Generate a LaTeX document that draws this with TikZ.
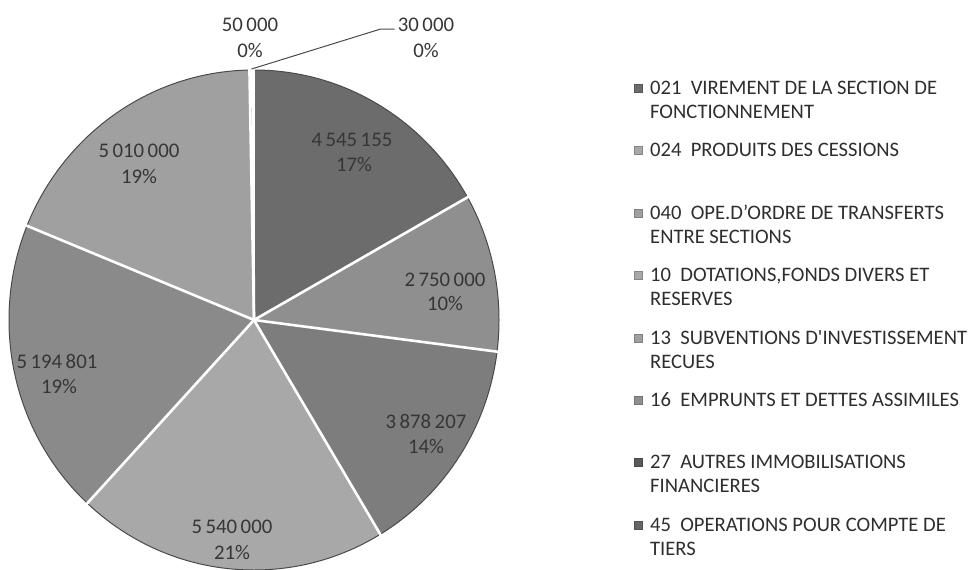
\documentclass[tikz,border=0pt]{standalone}
\usepackage{fontspec}
\setmainfont{Carlito}
\usetikzlibrary{calc}
\definecolor{sA}{HTML}{6C6C6C}
\definecolor{sB}{HTML}{8F8F8F}
\definecolor{sC}{HTML}{7D7D7D}
\definecolor{sD}{HTML}{A8A8A8}
\definecolor{sE}{HTML}{8A8A8A}
\definecolor{sF}{HTML}{A0A0A0}
\definecolor{sG}{HTML}{5A5A5A}
\definecolor{sH}{HTML}{666666}
\definecolor{txt}{HTML}{2E2E2E}
\definecolor{lbl}{HTML}{363636}
\definecolor{rim}{HTML}{4A4A4A}
\tikzset{
  pielbl/.style={inner sep=0pt, text height=13pt, text depth=0pt, text=lbl, font=\fontsize{20.8}{24}\selectfont},
  legtxt/.style={inner sep=0pt, anchor=west, text height=13pt, text depth=0pt, text=txt, font=\fontsize{20.6}{24}\selectfont},
  legbox/.style={minimum size=8pt, inner sep=0pt, draw=#1!80!black, fill=#1, line width=0.6pt},
  sep/.style={white, line width=2.6pt},
  leader/.style={draw=rim, line width=1pt}
}
\begin{document}
\begin{tikzpicture}[x=1pt,y=-1pt]
\useasboundingbox (0,0) rectangle (969,570);
% pie
\begin{scope}[shift={(254,320)}]
\coordinate (c) at (0,0);
\fill[sA] (c) -- (-90:245 and 250) arc[start angle=-90, end angle=-29.394, x radius=245, y radius=250] -- cycle;
\fill[sB] (c) -- (-29.394:245 and 250) arc[start angle=-29.394, end angle=7.276, x radius=245, y radius=250] -- cycle;
\fill[sC] (c) -- (7.276:245 and 250) arc[start angle=7.276, end angle=58.989, x radius=245, y radius=250] -- cycle;
\fill[sD] (c) -- (58.989:245 and 250) arc[start angle=58.989, end angle=132.860, x radius=245, y radius=250] -- cycle;
\fill[sE] (c) -- (132.860:245 and 250) arc[start angle=132.860, end angle=202.128, x radius=245, y radius=250] -- cycle;
\fill[sF] (c) -- (202.128:245 and 250) arc[start angle=202.128, end angle=268.933, x radius=245, y radius=250] -- cycle;
\fill[sG] (c) -- (268.933:245 and 250) arc[start angle=268.933, end angle=269.600, x radius=245, y radius=250] -- cycle;
\fill[sH] (c) -- (269.600:245 and 250) arc[start angle=269.600, end angle=270, x radius=245, y radius=250] -- cycle;
\draw[rim, line width=1pt] (c) ellipse[x radius=245, y radius=250];
\foreach \a in {-90,-29.394,7.276,58.989,132.860,202.128,268.933,269.600}
  \draw[sep] (c) -- (\a:247 and 252);
\coordinate (tip) at (-90.6:245 and 251);
\end{scope}
% pie labels
\node[pielbl] (v1a) at (352,140) {4\,545\,155};
\node[pielbl] (v1b) at (354,165) {17\%};
\node[pielbl] (v2a) at (445,280) {2\,750\,000};
\node[pielbl] (v2b) at (445,304) {10\%};
\node[pielbl] (v3a) at (426,422) {3\,878\,207};
\node[pielbl] (v3b) at (426,447) {14\%};
\node[pielbl] (v4a) at (232,527) {5\,540\,000};
\node[pielbl] (v4b) at (232,553) {21\%};
\node[pielbl] (v5a) at (57,362) {5\,194\,801};
\node[pielbl] (v5b) at (59,387) {19\%};
\node[pielbl] (v6a) at (139,151) {5\,010\,000};
\node[pielbl] (v6b) at (139,177) {19\%};
\node[pielbl] (v7a) at (250,25) {50\,000};
\node[pielbl] (v7b) at (250,51) {0\%};
\node[pielbl] (v8a) at (426,25) {30\,000};
\node[pielbl] (v8b) at (426,51) {0\%};
\draw[leader] ([xshift=-3pt,yshift=-4pt]v8a.west) -- ++(-14,0) -- (tip);
% legend
\node[legbox=sA] (m1) at (638,88) {};
\node[legtxt] (t1a) at (650,88) {021\hspace{0.45em}VIREMENT DE LA SECTION DE};
\node[legtxt] (t1b) at (650,112) {FONCTIONNEMENT};
\node[legbox=sD] (m2) at (638,150) {};
\node[legtxt] (t2a) at (650,150) {024\hspace{0.45em}PRODUITS DES CESSIONS};
\node[legbox=sF] (m3) at (638,213) {};
\node[legtxt] (t3a) at (650,213) {040\hspace{0.45em}OPE.D’ORDRE DE TRANSFERTS};
\node[legtxt] (t3b) at (650,237) {ENTRE SECTIONS};
\node[legbox=sD] (m4) at (638,275) {};
\node[legtxt] (t4a) at (650,275) {10\hspace{0.45em}DOTATIONS,FONDS DIVERS ET};
\node[legtxt] (t4b) at (650,299) {RESERVES};
\node[legbox=sF] (m5) at (638,338) {};
\node[legtxt] (t5a) at (650,338) {13\hspace{0.45em}SUBVENTIONS D\textquotesingle INVESTISSEMENT};
\node[legtxt] (t5b) at (650,362) {RECUES};
\node[legbox=sB] (m6) at (638,400) {};
\node[legtxt] (t6a) at (650,400) {16\hspace{0.45em}EMPRUNTS ET DETTES ASSIMILES};
\node[legbox=sG] (m7) at (638,462) {};
\node[legtxt] (t7a) at (650,462) {27\hspace{0.45em}AUTRES IMMOBILISATIONS};
\node[legtxt] (t7b) at (650,486) {FINANCIERES};
\node[legbox=sH] (m8) at (638,525) {};
\node[legtxt] (t8a) at (650,525) {45\hspace{0.45em}OPERATIONS POUR COMPTE DE};
\node[legtxt] (t8b) at (650,549) {TIERS};
\end{tikzpicture}
\end{document}
